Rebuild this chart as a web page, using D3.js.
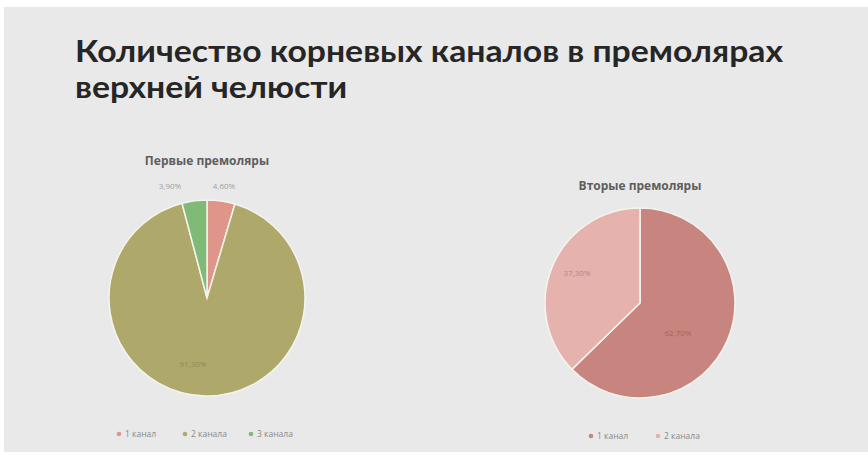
<!DOCTYPE html>
<html><head><meta charset="utf-8">
<script src="https://cdn.jsdelivr.net/npm/d3@7"></script>
<style>
html,body{margin:0;padding:0;background:#fff;}
svg{display:block;}
</style></head>
<body>
<svg id="chart" width="868" height="459"></svg>
<script>
// Root canal counts in maxillary premolars
const titleLines = ["Количество корневых каналов в премолярах", "верхней челюсти"];

const firstTitle = "Первые премоляры";
const firstCategories = ["1 канал", "2 канала", "3 канала"];
const firstValues = [4.6, 91.3, 4.1];
const firstLabels = ["4,60%", "91,30%", "3,90%"];
const firstColors = ["#e0958a", "#aea86a", "#7fbb77"];

const secondTitle = "Вторые премоляры";
const secondCategories = ["1 канал", "2 канала"];
const secondValues = [62.7, 37.3];
const secondLabels = ["62,70%", "37,30%"];
const secondColors = ["#c8857f", "#e6b2ae"];

const svg = d3.select("#chart");
svg.append("rect").attr("x", 4).attr("y", 7).attr("width", 864).attr("height", 445).attr("fill", "#e9e9e9");

// two-line heading; glyphs stretched slightly so the first line spans 708px
const headingWidth = 708;
const heading = svg.append("g").selectAll("text").data(titleLines).join("text")
  .attr("x", 75).attr("y", (d, i) => 61.5 + i * 36.2)
  .attr("font-family", "Lato, sans-serif").attr("font-weight", 700)
  .attr("font-size", 30).attr("fill", "#262626")
  .text(d => d);
const natural = heading.nodes().map(n => n.getComputedTextLength());
const stretch = headingWidth / natural[0];
heading.attr("textLength", (d, i) => natural[i] * stretch)
  .attr("lengthAdjust", "spacingAndGlyphs");

function drawPie(cfg) {
  const g = svg.append("g").attr("transform", `translate(${cfg.cx},${cfg.cy})`);
  const pie = d3.pie().sort(null).value(d => d.v);
  const arcs = pie(cfg.values.map((v, i) => ({v, i})));
  const arc = d3.arc().innerRadius(0).outerRadius(cfg.r);
  g.selectAll("path").data(arcs).join("path")
    .attr("d", arc).attr("fill", d => cfg.colors[d.data.i])
    .attr("stroke", "#f4f4ee").attr("stroke-width", 1.5);

  // value labels
  g.selectAll("text.lbl").data(arcs).join("text").attr("class", "lbl")
    .attr("x", (d, i) => cfg.labelPos[i][0]).attr("y", (d, i) => cfg.labelPos[i][1])
    .attr("text-anchor", "middle").attr("font-family", "Open Sans, sans-serif")
    .attr("font-size", 8).attr("fill", (d, i) => cfg.labelColors[i])
    .text((d, i) => cfg.labels[i]);

  svg.append("text").attr("x", cfg.cx).attr("y", cfg.titleY)
    .attr("text-anchor", "middle").attr("font-family", "Open Sans, sans-serif")
    .attr("font-weight", 700).attr("font-size", 12).attr("fill", "#5e5e5e")
    .text(cfg.title);

  const lg = svg.append("g").attr("transform", `translate(${cfg.legendX},${cfg.legendY})`);
  cfg.categories.forEach((c, i) => {
    const item = lg.append("g").attr("transform", `translate(${i * cfg.legendStep},0)`);
    item.append("circle").attr("cx", 3).attr("cy", -3).attr("r", 2.3).attr("fill", cfg.colors[i]);
    item.append("text").attr("x", 9).attr("y", 0)
      .attr("font-family", "Open Sans, sans-serif").attr("font-size", 8.5).attr("fill", "#8a8a8a").text(c);
  });
}

drawPie({
  cx: 207, cy: 298, r: 98, title: firstTitle, titleY: 165,
  values: firstValues, colors: firstColors, labels: firstLabels, categories: firstCategories,
  labelPos: [[17, -109], [-14, 69], [-37, -109]],
  labelColors: ["#a0a0a0", "#8f8a55", "#a0a0a0"],
  legendX: 116, legendY: 437, legendStep: 66
});

drawPie({
  cx: 640, cy: 303, r: 95, title: secondTitle, titleY: 190,
  values: secondValues, colors: secondColors, labels: secondLabels, categories: secondCategories,
  labelPos: [[38, 33], [-63, -27]],
  labelColors: ["#a06460", "#b98580"],
  legendX: 588, legendY: 439, legendStep: 67
});
</script>
</body></html>
